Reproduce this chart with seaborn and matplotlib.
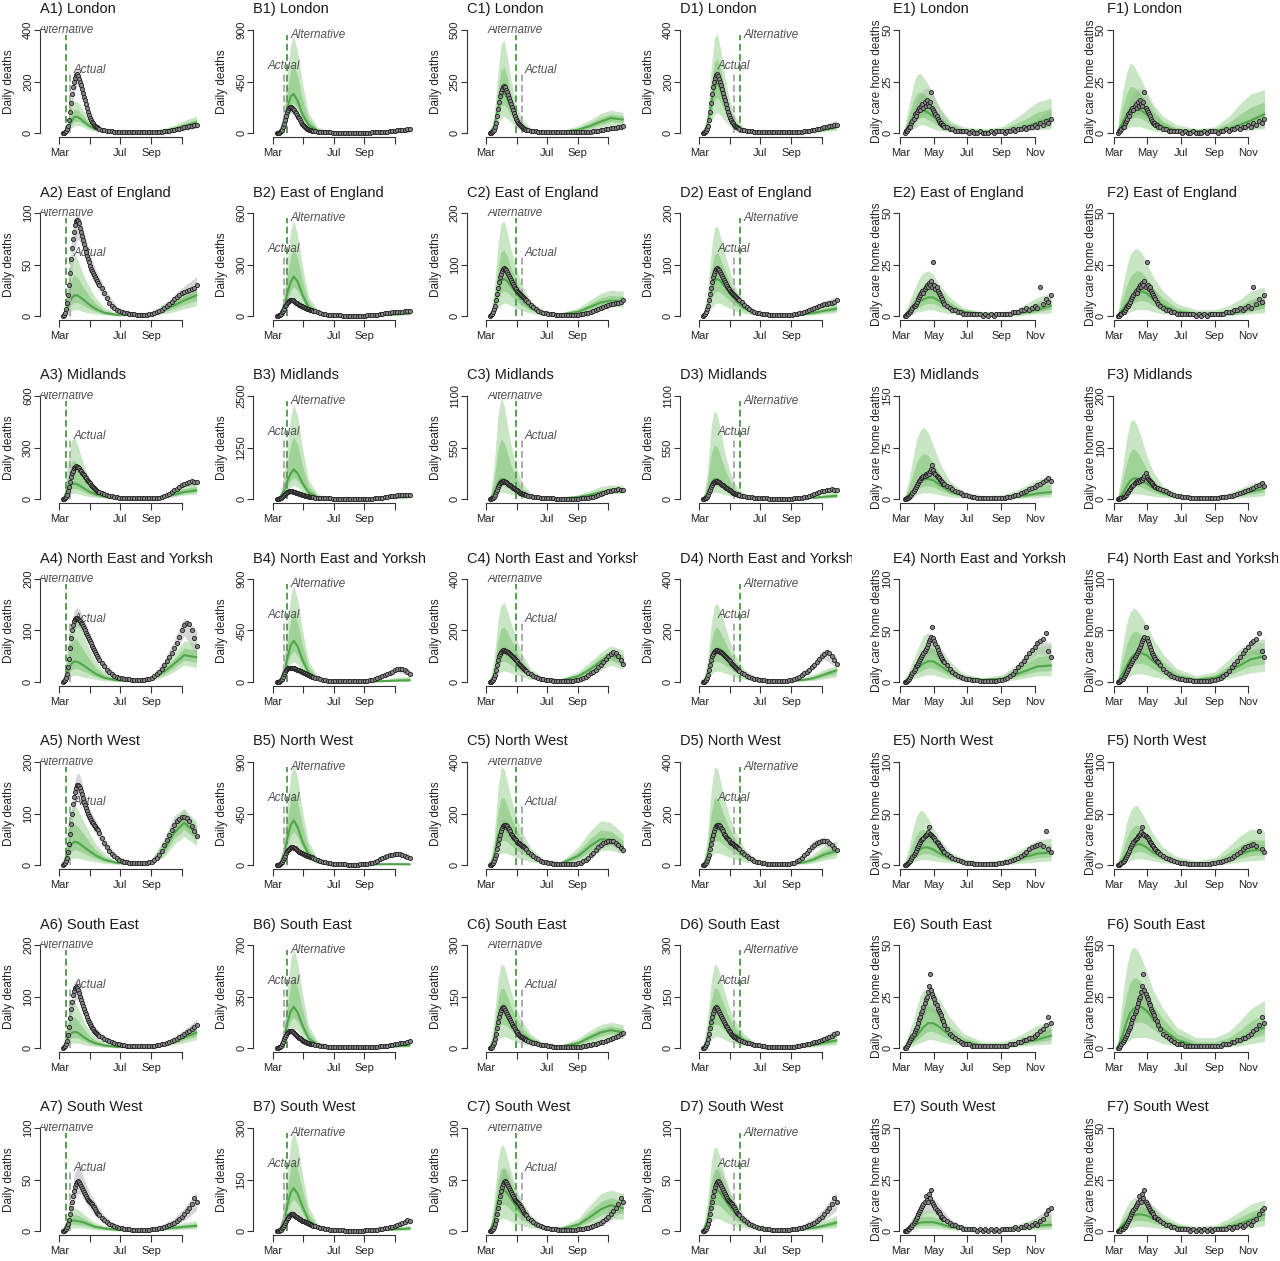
import numpy as np
import seaborn as sns
import matplotlib.pyplot as plt
from matplotlib.transforms import Bbox, TransformedBbox, offset_copy

# Regions (rows) and scenarios (columns A-F)
regions = ["London", "East of England", "Midlands", "North East and Yorkshire",
           "North West", "South East", "South West"]
region_keys = ["london", "east", "midlands", "ney", "nw", "se", "sw"]

# day 0 = 1 March 2020
month_days = [0, 61, 122, 184, 245]
month_names = ["Mar", "May", "Jul", "Sep", "Nov"]

obs_days = list(range(8, 80, 2)) + list(range(80, 280, 5))
band_days = [8, 16, 24, 30, 36, 42, 50, 60, 72, 90, 115, 150, 185, 210, 230, 250, 275]

# actual vs alternative intervention dates (lockdown A/B, easing C/D)
actual_day = {"A": 22, "B": 22, "C": 72, "D": 69}
alt_day = {"A": 14, "B": 29, "C": 59, "D": 82}

ymax_A = [400, 100, 600, 200, 200, 200, 100]
ymax_B = [900, 600, 2500, 900, 900, 700, 300]
ymax_C = [500, 200, 1100, 400, 400, 300, 100]
ymax_D = [400, 200, 1100, 400, 400, 300, 100]
ymax_E = [50, 50, 150, 100, 100, 50, 50]
ymax_F = [50, 50, 200, 100, 100, 50, 50]

# observed daily hospital deaths
hosp_london = [0, 1, 3, 8, 16, 28, 50, 80, 115, 150, 180, 200, 215, 225, 228, 222, 210, 198, 185, 170,
               155, 140, 128, 112, 98, 82, 68, 58, 50, 43, 37, 32, 28, 24, 21, 18,
               16, 13, 11, 9, 7, 6, 5, 4, 3, 3, 3, 2, 2, 2, 2, 2, 2, 2, 2, 2,
               2, 3, 3, 3, 4, 5, 6, 7, 8, 10, 12, 14, 17, 20, 22, 24, 26, 28, 30, 32]
hosp_east = [0, 1, 3, 7, 13, 20, 30, 42, 55, 66, 75, 82, 88, 92, 93, 92, 90, 86, 82, 78,
             74, 70, 66, 62, 58, 55, 52, 49, 46, 44, 42, 40, 38, 36, 34, 32,
             30, 27, 22, 17, 13, 10, 8, 6, 5, 4, 3, 3, 2, 2, 2, 1, 1, 1, 1, 1,
             2, 2, 3, 4, 5, 6, 8, 10, 12, 14, 16, 18, 20, 22, 23, 24, 25, 26, 27, 30]
hosp_midlands = [0, 2, 5, 12, 25, 45, 70, 100, 125, 150, 165, 178, 185, 190, 188, 185, 178, 170, 162, 152,
                 145, 137, 128, 120, 112, 105, 98, 90, 82, 75, 68, 62, 57, 52, 47, 43,
                 40, 33, 27, 22, 18, 15, 12, 10, 8, 7, 6, 5, 4, 4, 3, 3, 3, 3, 3, 3,
                 4, 4, 5, 6, 8, 12, 17, 23, 30, 40, 50, 60, 70, 80, 88, 95, 100, 102, 100, 98]
hosp_ney = [0, 1, 3, 8, 15, 28, 45, 65, 85, 100, 110, 118, 122, 125, 124, 122, 120, 118, 115, 112,
            108, 104, 100, 96, 92, 88, 84, 80, 75, 70, 66, 62, 58, 54, 50, 46,
            43, 36, 30, 24, 19, 15, 12, 10, 8, 7, 6, 5, 5, 4, 4, 4, 4, 4, 4, 5,
            6, 8, 11, 15, 20, 26, 33, 40, 48, 57, 66, 76, 88, 100, 110, 115, 112, 100, 85, 70]
hosp_nw = [0, 1, 3, 7, 14, 25, 40, 60, 80, 100, 118, 132, 142, 150, 155, 156, 154, 150, 144, 138,
           130, 122, 116, 110, 105, 100, 95, 91, 87, 84, 81, 78, 75, 72, 70, 67,
           62, 52, 42, 34, 28, 22, 17, 13, 10, 8, 6, 5, 4, 4, 3, 3, 3, 3, 3, 4,
           5, 6, 9, 14, 20, 28, 38, 48, 58, 68, 78, 85, 90, 93, 94, 92, 85, 76, 66, 57]
hosp_se = [0, 1, 3, 7, 14, 25, 40, 58, 75, 90, 102, 110, 116, 118, 116, 112, 106, 100, 94, 88,
           82, 76, 70, 65, 60, 55, 50, 46, 42, 39, 36, 33, 31, 29, 27, 25,
           24, 21, 18, 15, 13, 11, 9, 8, 7, 6, 5, 4, 4, 3, 3, 3, 3, 3, 3, 3,
           3, 4, 4, 5, 6, 7, 8, 10, 12, 14, 16, 18, 21, 24, 27, 30, 33, 36, 40, 44]
hosp_sw = [0, 0, 1, 2, 4, 7, 11, 16, 22, 28, 34, 39, 43, 46, 48, 49, 48, 46, 44, 42,
           40, 38, 36, 34, 32, 30, 29, 28, 27, 26, 24, 23, 21, 19, 17, 16,
           15, 13, 11, 9, 7, 6, 5, 4, 3, 3, 2, 2, 2, 1, 1, 1, 1, 1, 1, 1,
           1, 2, 2, 2, 3, 3, 4, 5, 6, 7, 8, 10, 12, 14, 16, 19, 22, 26, 32, 28]

# observed daily care home deaths
care_london = [0, 1, 1, 2, 3, 3, 5, 6, 7, 9, 8, 10, 11, 12, 11, 13, 14, 12, 15, 13,
               16, 14, 13, 15, 20, 12, 11, 10, 9, 8, 7, 6, 5, 5, 4, 4,
               3, 3, 2, 2, 1, 1, 1, 1, 1, 0, 1, 0, 0, 1, 0, 0, 0, 1, 0, 1,
               1, 1, 0, 1, 1, 2, 1, 2, 2, 3, 2, 3, 3, 4, 3, 5, 4, 6, 5, 7]
care_east = [0, 0, 1, 1, 2, 2, 3, 4, 5, 5, 6, 7, 8, 9, 10, 11, 12, 11, 13, 14,
             15, 14, 16, 15, 17, 14, 26, 15, 13, 14, 12, 11, 10, 9, 8, 7,
             6, 5, 4, 3, 3, 2, 2, 1, 1, 1, 1, 1, 1, 1, 0, 1, 0, 1, 0, 1,
             1, 1, 1, 1, 1, 2, 2, 2, 3, 3, 4, 3, 4, 5, 4, 14, 6, 8, 7, 10]
care_midlands = [0, 0, 1, 2, 3, 4, 6, 8, 11, 14, 17, 20, 23, 26, 28, 30, 32, 34, 33, 36,
                 35, 38, 37, 40, 44, 50, 42, 38, 36, 34, 32, 30, 28, 26, 24, 22,
                 22, 19, 17, 15, 12, 10, 8, 6, 5, 4, 3, 3, 2, 2, 2, 2, 1, 1, 1, 1,
                 2, 2, 2, 3, 3, 4, 5, 6, 8, 10, 12, 14, 16, 18, 20, 22, 25, 28, 30, 26]
care_ney = [0, 0, 1, 2, 3, 5, 7, 9, 11, 13, 15, 16, 18, 20, 22, 24, 26, 28, 30, 32,
            34, 37, 40, 42, 44, 53, 43, 40, 37, 34, 31, 28, 26, 24, 22, 20,
            19, 16, 13, 10, 8, 6, 5, 4, 3, 3, 2, 2, 2, 1, 1, 1, 1, 1, 1, 1,
            2, 2, 3, 4, 6, 8, 11, 14, 17, 20, 24, 28, 31, 34, 38, 40, 42, 48, 30, 24]
care_nw = [0, 0, 1, 2, 3, 4, 6, 8, 10, 12, 14, 16, 18, 20, 22, 24, 25, 26, 28, 29,
           30, 32, 37, 30, 29, 28, 27, 26, 24, 22, 21, 19, 18, 16, 15, 14,
           13, 11, 9, 7, 6, 5, 4, 3, 2, 2, 2, 1, 1, 1, 1, 1, 1, 1, 1, 1,
           2, 2, 3, 3, 4, 5, 6, 7, 9, 11, 13, 15, 17, 18, 19, 20, 18, 33, 15, 13]
care_se = [0, 0, 1, 2, 3, 4, 5, 6, 7, 8, 9, 10, 12, 14, 15, 17, 18, 20, 22, 24,
           25, 27, 30, 36, 28, 26, 25, 24, 22, 21, 19, 18, 17, 16, 14, 13,
           11, 9, 7, 6, 5, 4, 3, 2, 2, 2, 1, 1, 1, 1, 1, 1, 1, 1, 1, 1,
           1, 1, 1, 1, 2, 2, 2, 3, 3, 4, 4, 5, 5, 6, 7, 8, 9, 11, 15, 12]
care_sw = [0, 0, 0, 1, 1, 2, 2, 3, 4, 5, 6, 7, 8, 9, 10, 11, 12, 13, 14, 17,
           15, 14, 18, 16, 20, 14, 13, 12, 11, 10, 9, 9, 8, 7, 7, 6,
           6, 5, 4, 3, 3, 2, 2, 1, 1, 1, 1, 1, 0, 1, 0, 1, 0, 1, 0, 1,
           0, 1, 1, 1, 1, 1, 2, 1, 2, 2, 3, 2, 3, 4, 3, 5, 6, 8, 10, 11]

# fitted model (actual interventions), 95% interval
fit_hosp_london_lo = [0, 8, 80, 160, 185, 165, 115, 52, 20, 7, 2, 1, 1, 3, 7, 12, 20]
fit_hosp_london_hi = [2, 30, 150, 235, 255, 230, 165, 85, 38, 16, 6, 4, 6, 11, 20, 32, 50]
fit_hosp_east_lo = [0, 6, 40, 65, 75, 72, 60, 44, 31, 17, 4, 1, 1, 5, 11, 17, 23]
fit_hosp_east_hi = [1, 20, 70, 95, 100, 95, 80, 62, 46, 28, 9, 3, 4, 11, 20, 29, 38]
fit_hosp_midlands_lo = [0, 15, 95, 150, 160, 148, 115, 80, 45, 20, 7, 2, 2, 11, 38, 72, 80]
fit_hosp_midlands_hi = [2, 40, 150, 200, 210, 195, 160, 115, 70, 35, 13, 5, 7, 25, 60, 100, 115]
fit_hosp_ney_lo = [0, 8, 65, 100, 108, 102, 90, 70, 47, 23, 7, 2, 5, 25, 55, 90, 55]
fit_hosp_ney_hi = [2, 30, 110, 140, 145, 138, 120, 98, 70, 38, 14, 6, 12, 42, 80, 125, 100]
fit_hosp_nw_lo = [0, 8, 60, 110, 130, 125, 102, 80, 62, 33, 9, 2, 4, 28, 62, 78, 45]
fit_hosp_nw_hi = [2, 28, 105, 160, 180, 172, 140, 110, 88, 52, 18, 5, 10, 50, 95, 110, 75]
fit_hosp_se_lo = [0, 8, 55, 90, 95, 84, 62, 40, 24, 13, 5, 2, 2, 5, 11, 19, 32]
fit_hosp_se_hi = [2, 25, 95, 128, 135, 120, 92, 62, 40, 23, 10, 4, 6, 12, 22, 35, 55]
fit_hosp_sw_lo = [0, 2, 15, 28, 36, 36, 30, 22, 15, 7, 2, 0, 1, 2, 5, 10, 20]
fit_hosp_sw_hi = [1, 10, 35, 55, 62, 60, 50, 38, 28, 15, 5, 2, 3, 7, 12, 22, 38]

fit_care_london_lo = [0, 1, 3, 6, 8, 9, 9, 7, 4, 1, 0, 0, 0, 0.5, 1, 2, 3]
fit_care_london_hi = [1, 6, 12, 16, 19, 21, 22, 19, 12, 5, 2, 1, 1, 2, 4, 7, 11]
fit_care_east_lo = [0, 1, 3, 5, 7, 9, 11, 11, 8, 3, 1, 0, 0, 0.5, 1, 2, 4]
fit_care_east_hi = [1, 4, 8, 10, 13, 15, 17, 17, 13, 7, 2, 1, 1, 2, 4, 7, 10]
fit_care_midlands_lo = [0, 3, 10, 18, 23, 26, 30, 29, 21, 10, 3, 1, 1, 4, 10, 18, 24]
fit_care_midlands_hi = [1, 8, 20, 28, 33, 37, 42, 40, 30, 16, 6, 2, 3, 8, 16, 25, 32]
fit_care_ney_lo = [0, 2, 8, 12, 17, 22, 27, 27, 20, 9, 2, 0, 1, 8, 18, 27, 25]
fit_care_ney_hi = [1, 6, 14, 20, 26, 32, 38, 38, 30, 16, 5, 2, 4, 15, 28, 40, 38]
fit_care_nw_lo = [0, 2, 8, 12, 16, 20, 22, 19, 13, 6, 1, 0, 1, 4, 9, 13, 12]
fit_care_nw_hi = [1, 6, 14, 20, 25, 30, 32, 28, 20, 10, 3, 1, 3, 8, 14, 20, 20]
fit_care_se_lo = [0, 1, 4, 7, 10, 14, 18, 17, 12, 5, 1, 0, 0, 1, 2, 5, 8]
fit_care_se_hi = [1, 4, 8, 12, 16, 22, 27, 25, 18, 9, 3, 1, 1, 3, 5, 9, 14]
fit_care_sw_lo = [0, 0.5, 2, 4, 6, 8, 9, 9, 6, 3, 0.5, 0, 0, 0.5, 1.5, 3, 6]
fit_care_sw_hi = [0.5, 3, 7, 10, 13, 15, 17, 16, 12, 6, 2, 1, 1, 2, 4, 7, 12]

# alternative scenario: median and 95% interval
A1_med = [1, 15, 45, 62, 62, 55, 42, 27, 15, 6, 2, 2, 4, 9, 16, 27, 40]
A1_lo = [0, 5, 18, 28, 30, 27, 20, 12, 6, 2, 1, 0, 1, 2, 5, 10, 18]
A1_hi = [3, 35, 100, 125, 120, 105, 80, 52, 30, 13, 5, 4, 8, 17, 30, 48, 65]
B1_med = [2, 25, 120, 230, 320, 340, 280, 160, 70, 20, 6, 3, 3, 5, 8, 12, 15]
B1_lo = [0, 10, 60, 120, 170, 180, 140, 75, 30, 8, 2, 1, 1, 1, 2, 3, 4]
B1_hi = [5, 50, 280, 560, 780, 850, 700, 420, 170, 50, 15, 8, 10, 18, 30, 45, 55]
C1_med = [3, 30, 120, 180, 195, 170, 120, 65, 30, 10, 4, 4, 15, 35, 55, 72, 65]
C1_lo = [0, 10, 45, 70, 80, 70, 50, 25, 12, 4, 1, 1, 4, 12, 25, 38, 35]
C1_hi = [8, 80, 300, 430, 450, 380, 260, 140, 65, 22, 8, 10, 35, 65, 95, 110, 100]
D1_med = [3, 30, 120, 180, 195, 170, 120, 65, 30, 10, 3, 2, 2, 3, 6, 12, 22]
D1_lo = [0, 10, 45, 70, 80, 70, 50, 25, 12, 4, 1, 0, 0, 1, 2, 5, 10]
D1_hi = [8, 75, 260, 370, 385, 330, 230, 130, 60, 20, 7, 4, 5, 8, 14, 24, 40]
E1_med = [1, 4, 8, 10, 11, 11, 10, 8, 5, 2, 1, 0.5, 1, 2, 3, 5, 7]
E1_lo = [0, 1, 2, 3, 4, 4, 3, 2, 1, 0.5, 0, 0, 0, 0.5, 1, 1.5, 2]
E1_hi = [4, 14, 24, 28, 29, 27, 24, 18, 12, 6, 3, 2, 3, 7, 11, 15, 17]
F1_med = [1, 5, 9, 11, 12, 12, 11, 9, 6, 3, 1, 1, 1, 2, 4, 6, 9]
F1_lo = [0, 1, 2, 3, 3, 3, 3, 2, 1, 0.5, 0, 0, 0, 0.5, 1, 1.5, 2]
F1_hi = [6, 20, 30, 34, 33, 30, 26, 20, 14, 8, 4, 2, 3, 8, 14, 19, 21]

A2_med = [1, 8, 17, 20, 20, 18, 15, 11, 7, 3, 1, 1, 2, 6, 10, 15, 20]
A2_lo = [0, 2, 5, 6, 6, 5, 4, 3, 2, 1, 0, 0, 1, 2, 4, 7, 10]
A2_hi = [3, 30, 55, 60, 55, 48, 38, 28, 18, 8, 3, 2, 4, 12, 18, 24, 30]
B2_med = [1, 15, 70, 140, 200, 230, 200, 120, 50, 15, 4, 2, 2, 3, 6, 10, 14]
B2_lo = [0, 6, 30, 65, 95, 110, 95, 55, 20, 5, 1, 0, 0, 1, 2, 3, 5]
B2_hi = [3, 35, 170, 350, 500, 560, 470, 280, 110, 35, 10, 5, 6, 10, 18, 28, 35]
C2_med = [1, 15, 50, 68, 72, 68, 58, 45, 30, 15, 5, 3, 8, 18, 26, 30, 28]
C2_lo = [0, 4, 15, 22, 25, 24, 20, 15, 10, 5, 1, 1, 3, 8, 14, 18, 17]
C2_hi = [4, 50, 140, 180, 185, 165, 130, 95, 60, 28, 10, 6, 16, 32, 44, 50, 48]
D2_med = [1, 15, 50, 68, 72, 68, 58, 45, 30, 15, 5, 2, 2, 3, 6, 10, 14]
D2_lo = [0, 4, 15, 22, 25, 24, 20, 15, 10, 5, 1, 0, 0, 1, 2, 4, 6]
D2_hi = [4, 45, 130, 170, 175, 155, 125, 90, 55, 25, 8, 4, 4, 7, 12, 20, 28]
E2_med = [0.5, 2, 4, 6, 7, 8, 9, 9, 7, 4, 2, 1, 1, 1, 2, 3, 5]
E2_lo = [0, 0.5, 1, 2, 2, 2.5, 3, 3, 2, 1, 0.5, 0, 0, 0, 0.5, 1, 1.5]
E2_hi = [2, 7, 12, 16, 19, 21, 22, 20, 15, 9, 4, 2, 2, 3, 6, 9, 11]
F2_med = [0.5, 3, 6, 8, 10, 11, 12, 11, 8, 5, 2, 1, 1, 1, 2, 4, 6]
F2_lo = [0, 0.5, 1, 2, 2.5, 3, 3, 3, 2, 1, 0.5, 0, 0, 0, 0.5, 1, 1.5]
F2_hi = [3, 14, 24, 30, 32, 33, 31, 26, 19, 12, 6, 3, 3, 5, 8, 12, 14]

A3_med = [2, 50, 85, 90, 85, 75, 60, 42, 27, 13, 4, 2, 4, 12, 25, 40, 50]
A3_lo = [0, 15, 30, 33, 30, 27, 20, 14, 8, 4, 1, 0, 1, 5, 12, 22, 28]
A3_hi = [8, 200, 340, 360, 320, 260, 190, 120, 70, 30, 10, 5, 10, 28, 55, 80, 95]
B3_med = [3, 60, 250, 450, 620, 720, 620, 380, 150, 45, 12, 5, 5, 10, 20, 35, 50]
B3_lo = [0, 25, 110, 200, 280, 330, 280, 170, 65, 18, 4, 2, 1, 3, 7, 12, 18]
B3_hi = [10, 150, 700, 1400, 2000, 2300, 2000, 1200, 450, 120, 30, 12, 15, 30, 55, 85, 110]
C3_med = [3, 60, 170, 210, 210, 185, 145, 100, 60, 25, 8, 5, 20, 45, 70, 90, 95]
C3_lo = [0, 15, 55, 70, 70, 62, 48, 33, 20, 8, 2, 1, 7, 20, 38, 55, 60]
C3_hi = [15, 350, 900, 1080, 1000, 820, 580, 350, 170, 60, 18, 12, 45, 90, 130, 150, 145]
D3_med = [3, 60, 170, 210, 210, 185, 145, 100, 60, 25, 7, 3, 3, 6, 12, 22, 32]
D3_lo = [0, 15, 55, 70, 70, 62, 48, 33, 20, 8, 2, 1, 1, 2, 4, 8, 12]
D3_hi = [15, 300, 800, 950, 900, 740, 520, 310, 150, 55, 15, 6, 8, 16, 35, 60, 85]
E3_med = [1, 6, 14, 20, 25, 28, 29, 27, 20, 11, 5, 2, 2, 3, 5, 8, 10]
E3_lo = [0, 1, 4, 6, 8, 9, 9, 8, 6, 3, 1, 0, 0, 1, 1, 2, 3]
E3_hi = [4, 30, 65, 88, 100, 105, 98, 78, 52, 26, 11, 5, 6, 12, 20, 28, 34]
F3_med = [1, 10, 25, 35, 40, 40, 37, 30, 21, 11, 4, 2, 2, 4, 8, 14, 20]
F3_lo = [0, 2, 6, 9, 10, 10, 9, 7, 5, 3, 1, 0, 0, 1, 2, 4, 6]
F3_hi = [8, 60, 120, 150, 155, 145, 120, 85, 52, 25, 10, 5, 6, 12, 20, 30, 36]

A4_med = [1, 20, 35, 40, 39, 36, 31, 24, 16, 8, 3, 2, 6, 20, 35, 52, 48]
A4_lo = [0, 6, 11, 13, 12, 11, 9, 7, 5, 2, 1, 0, 2, 10, 20, 33, 28]
A4_hi = [5, 70, 115, 130, 122, 108, 88, 65, 42, 20, 7, 4, 12, 35, 55, 80, 75]
B4_med = [2, 20, 110, 220, 320, 360, 310, 190, 80, 22, 6, 3, 3, 5, 8, 12, 15]
B4_lo = [0, 8, 50, 110, 160, 180, 150, 90, 35, 8, 2, 1, 1, 1, 2, 3, 4]
B4_hi = [5, 45, 260, 520, 760, 850, 720, 440, 180, 50, 14, 6, 8, 14, 25, 40, 50]
C4_med = [2, 25, 90, 115, 120, 112, 98, 78, 55, 28, 10, 6, 22, 50, 80, 105, 85]
C4_lo = [0, 6, 30, 40, 42, 40, 35, 28, 20, 10, 3, 2, 8, 25, 45, 65, 50]
C4_hi = [8, 90, 240, 300, 310, 280, 230, 170, 110, 50, 18, 12, 40, 80, 115, 140, 125]
D4_med = [2, 25, 90, 115, 120, 112, 98, 78, 55, 28, 9, 4, 4, 8, 15, 28, 45]
D4_lo = [0, 6, 30, 40, 42, 40, 35, 28, 20, 10, 3, 1, 1, 3, 6, 12, 20]
D4_hi = [8, 85, 230, 295, 305, 275, 225, 165, 105, 48, 16, 8, 10, 18, 30, 48, 65]
E4_med = [0.5, 4, 9, 12, 15, 18, 20, 20, 16, 9, 4, 2, 3, 7, 11, 15, 16]
E4_lo = [0, 1, 3, 4, 5, 6, 7, 7, 5, 3, 1, 0, 1, 2, 4, 6, 6]
E4_hi = [3, 12, 22, 30, 38, 45, 48, 45, 35, 20, 8, 4, 7, 16, 26, 34, 36]
F4_med = [1, 8, 16, 22, 26, 28, 28, 26, 20, 12, 5, 2, 4, 10, 16, 22, 25]
F4_lo = [0, 2, 4, 6, 7, 8, 8, 7, 5, 3, 1, 0, 1, 3, 6, 9, 10]
F4_hi = [6, 35, 58, 68, 72, 70, 64, 55, 42, 27, 13, 6, 10, 22, 32, 40, 42]

A5_med = [1, 22, 40, 45, 44, 40, 34, 27, 19, 10, 4, 2, 6, 30, 62, 82, 62]
A5_lo = [0, 7, 12, 14, 13, 12, 10, 8, 6, 3, 1, 0, 2, 15, 40, 55, 38]
A5_hi = [5, 75, 110, 115, 108, 98, 82, 62, 42, 22, 8, 4, 12, 50, 88, 108, 85]
B5_med = [2, 20, 120, 250, 350, 390, 330, 200, 90, 25, 6, 3, 3, 5, 6, 6, 5]
B5_lo = [0, 8, 55, 120, 170, 190, 160, 95, 40, 10, 2, 1, 1, 1, 1, 1, 1]
B5_hi = [5, 45, 280, 560, 790, 880, 760, 460, 200, 55, 14, 6, 8, 15, 20, 22, 20]
C5_med = [2, 30, 110, 140, 145, 135, 115, 90, 68, 38, 12, 6, 35, 75, 100, 98, 70]
C5_lo = [0, 8, 35, 45, 47, 44, 38, 30, 22, 12, 4, 2, 12, 35, 55, 58, 42]
C5_hi = [8, 110, 300, 380, 375, 330, 260, 190, 130, 65, 22, 12, 70, 135, 172, 165, 120]
D5_med = [2, 30, 110, 140, 145, 135, 115, 90, 68, 38, 11, 4, 4, 10, 22, 40, 55]
D5_lo = [0, 8, 35, 45, 47, 44, 38, 30, 22, 12, 4, 1, 1, 3, 8, 18, 28]
D5_hi = [8, 110, 300, 380, 375, 330, 260, 190, 130, 65, 20, 8, 9, 22, 45, 75, 95]
E5_med = [0.5, 4, 9, 12, 15, 17, 17, 15, 11, 6, 3, 1, 2, 5, 8, 11, 12]
E5_lo = [0, 1, 3, 4, 5, 5, 5, 4, 3, 2, 1, 0, 0, 1, 2, 3, 4]
E5_hi = [3, 18, 38, 48, 53, 52, 46, 36, 25, 13, 6, 3, 5, 12, 18, 24, 26]
F5_med = [0.5, 5, 11, 15, 18, 20, 20, 17, 12, 7, 3, 1, 2, 6, 10, 14, 15]
F5_lo = [0, 1, 3, 4, 5, 6, 6, 5, 4, 2, 1, 0, 0, 1, 3, 4, 5]
F5_hi = [4, 22, 42, 52, 57, 58, 52, 42, 30, 17, 8, 4, 7, 18, 28, 35, 33]

A6_med = [1, 18, 29, 31, 30, 26, 20, 14, 9, 5, 2, 1, 3, 7, 12, 20, 30]
A6_lo = [0, 5, 9, 10, 9, 8, 6, 4, 3, 1, 0, 0, 1, 3, 6, 10, 16]
A6_hi = [4, 60, 85, 90, 80, 68, 50, 34, 22, 11, 5, 3, 6, 12, 20, 32, 45]
B6_med = [2, 15, 90, 180, 250, 280, 240, 150, 65, 20, 6, 3, 3, 5, 8, 12, 18]
B6_lo = [0, 6, 40, 85, 120, 135, 115, 70, 30, 8, 2, 1, 1, 1, 2, 4, 6]
B6_hi = [5, 35, 210, 420, 600, 680, 580, 360, 150, 45, 13, 6, 7, 12, 20, 30, 40]
C6_med = [2, 25, 85, 105, 105, 95, 78, 58, 40, 22, 8, 4, 14, 32, 45, 52, 45]
C6_lo = [0, 6, 25, 32, 33, 30, 25, 18, 12, 7, 2, 1, 5, 14, 24, 30, 27]
C6_hi = [6, 85, 200, 245, 240, 210, 165, 118, 78, 40, 14, 8, 28, 52, 68, 75, 68]
D6_med = [2, 25, 85, 105, 105, 95, 78, 58, 40, 22, 7, 3, 3, 5, 9, 15, 22]
D6_lo = [0, 6, 25, 32, 33, 30, 25, 18, 12, 7, 2, 1, 1, 2, 3, 6, 9]
D6_hi = [6, 85, 200, 245, 240, 210, 165, 118, 78, 40, 13, 6, 7, 11, 18, 27, 38]
E6_med = [0.5, 2, 4, 6, 8, 10, 12, 12, 10, 6, 3, 1, 1, 2, 3, 4, 6]
E6_lo = [0, 0.5, 1, 2, 2.5, 3, 4, 4, 3, 2, 1, 0, 0, 0.5, 1, 1.5, 2]
E6_hi = [2, 8, 14, 20, 25, 28, 30, 28, 23, 15, 7, 3, 3, 5, 8, 11, 13]
F6_med = [1, 6, 13, 17, 19, 20, 20, 18, 14, 9, 4, 1, 1, 2, 4, 7, 10]
F6_lo = [0, 1, 3, 4, 5, 5, 5, 5, 4, 2, 1, 0, 0, 0.5, 1, 2, 3]
F6_hi = [6, 25, 40, 47, 49, 48, 44, 37, 28, 19, 10, 5, 5, 8, 13, 19, 23]

A7_med = [0.5, 7, 10, 10, 9.5, 9, 8, 6, 4, 2.5, 1, 0.5, 1, 2, 3, 4, 5]
A7_lo = [0, 2, 3, 3, 3, 3, 2.5, 2, 1, 0.5, 0, 0, 0.3, 0.7, 1, 1.5, 2]
A7_hi = [2, 17, 22, 22, 21, 19, 16, 12, 8, 5, 2, 1, 2, 4, 6, 8, 10]
B7_med = [1, 8, 40, 80, 112, 125, 108, 70, 30, 9, 3, 1, 1, 2, 3, 5, 7]
B7_lo = [0, 3, 18, 38, 52, 58, 50, 32, 13, 3, 1, 0, 0, 0.5, 1, 1.5, 2]
B7_hi = [3, 18, 90, 180, 260, 290, 250, 160, 70, 20, 6, 3, 3, 5, 8, 12, 16]
C7_med = [0.5, 10, 30, 38, 40, 37, 31, 24, 17, 9, 3, 2, 6, 14, 21, 25, 22]
C7_lo = [0, 3, 9, 12, 12, 11, 9, 7, 5, 3, 1, 0, 2, 5, 10, 12, 11]
C7_hi = [3, 30, 70, 84, 82, 72, 58, 42, 28, 14, 5, 4, 12, 26, 36, 40, 36]
D7_med = [0.5, 10, 30, 38, 40, 37, 31, 24, 17, 9, 3, 1, 1, 2, 3, 5, 8]
D7_lo = [0, 3, 9, 12, 12, 11, 9, 7, 5, 3, 1, 0, 0, 0.5, 1, 2, 3]
D7_hi = [3, 28, 68, 82, 80, 70, 56, 40, 27, 13, 4, 2, 2, 4, 6, 10, 15]
E7_med = [0.3, 1.5, 3, 3.5, 4, 4.2, 4.3, 4.2, 3.5, 2, 1, 0.4, 0.5, 1, 1.5, 2.5, 3]
E7_lo = [0, 0.3, 0.8, 1, 1.2, 1.3, 1.3, 1.2, 1, 0.5, 0.2, 0, 0, 0.2, 0.4, 0.6, 0.8]
E7_hi = [1, 4, 7, 8.5, 9.5, 10, 10, 9.5, 8, 5, 2.5, 1, 1.5, 3, 4.5, 6.5, 8]
F7_med = [0.5, 3, 5, 6.5, 7.5, 8, 8, 7.5, 6, 4, 2, 0.7, 1, 2, 3.5, 5.5, 8]
F7_lo = [0, 0.6, 1.2, 1.6, 2, 2.2, 2.2, 2, 1.6, 1, 0.4, 0.1, 0.2, 0.5, 1, 1.5, 2.5]
F7_hi = [2, 8, 12, 14.5, 16, 16.5, 16, 14.5, 12, 8, 4, 2, 3, 6, 9.5, 13, 15]

ymax_by_col = {"A": ymax_A, "B": ymax_B, "C": ymax_C, "D": ymax_D, "E": ymax_E, "F": ymax_F}

sns.set_style("ticks")
plt.rcParams["font.family"] = ["Liberation Sans", "DejaVu Sans"]
plt.rcParams["axes.edgecolor"] = "#333333"

W, H = 1280, 1261
fig = plt.figure(figsize=(W / 100, H / 100), dpi=100)

grey_band = "#d5d5d5"
green_outer = "#9bd292"
green_inner = "#6dbb62"
green_line = "#4fa64a"
dash = (0, (3.5, 1.8))

cell_w = W / 6
row_h = 183

for r, key in enumerate(region_keys):
    for c, col in enumerate("ABCDEF"):
        care = col in "EF"
        kind = "care" if care else "hosp"
        cx = c * cell_w
        top = r * row_h
        left = cx + (46 if care else 40)
        width = 160 if care else 164
        ax = fig.add_axes([left / W, 1 - (top + 137) / H, width / W, 111 / H])
        ymax = ymax_by_col[col][r]

        obs = globals()[f"{kind}_{key}"]
        fit_lo = globals()[f"fit_{kind}_{key}_lo"]
        fit_hi = globals()[f"fit_{kind}_{key}_hi"]
        med = np.array(globals()[f"{col}{r + 1}_med"], dtype=float)
        lo = np.array(globals()[f"{col}{r + 1}_lo"], dtype=float)
        hi = np.array(globals()[f"{col}{r + 1}_hi"], dtype=float)

        # model fit under actual interventions
        ax.fill_between(band_days, fit_lo, fit_hi, color=grey_band, lw=0, zorder=1)
        # alternative scenario: 95% and central bands
        ax.fill_between(band_days, lo, hi, color=green_outer, alpha=0.55, lw=0, zorder=2)
        ax.fill_between(band_days, (lo + med) / 2, (hi + med) / 2,
                        color=green_inner, alpha=0.45, lw=0, zorder=2)
        sns.lineplot(x=band_days, y=med, ax=ax, color=green_line, lw=1.5, zorder=3)

        if not care:
            a_day, x_day = actual_day[col], alt_day[col]
            ax.vlines(a_day, 0, 0.57 * ymax, colors="#ababab", linestyles=dash, lw=1.4, zorder=3.5)
            ax.vlines(x_day, 0, 0.95 * ymax, colors="#58a052", linestyles=dash, lw=1.4, zorder=3.5)
            shift = offset_copy(ax.transData, fig=fig, x=3, y=0, units="dots")
            tkw = dict(fontsize=8.4, style="italic", color="#505050", clip_on=True, zorder=3.8)
            if x_day < a_day:
                ax.text(x_day, ymax, "Alternative", ha="center", va="center", **tkw)
                ax.text(a_day, 0.61 * ymax, "Actual", ha="left", va="center",
                        transform=shift, **tkw)
            else:
                ax.text(a_day, 0.65 * ymax, "Actual", ha="center", va="center", **tkw)
                ax.text(x_day, 0.955 * ymax, "Alternative", ha="left", va="center",
                        transform=shift, **tkw)

        sns.scatterplot(x=obs_days, y=obs, ax=ax, s=9, color="#8a8a8a",
                        edgecolor="#1e1e1e", linewidth=0.6, legend=False, zorder=4)

        ax.set_xlim(-2 if care else -39, 290)
        ax.set_ylim(-0.04 * ymax, 1.04 * ymax)
        xlabels = month_names if care else ["Mar", "", "Jul", "Sep", ""]
        ax.set_xticks(month_days, xlabels)
        ax.set_yticks([0, ymax / 2, ymax], [f"{v:g}" for v in (0, ymax / 2, ymax)],
                      rotation=90, va="center")
        ax.spines[["top", "right"]].set_visible(False)
        ax.spines["left"].set_bounds(0, ymax)
        ax.spines["bottom"].set_bounds(0, 245)
        for s in ("left", "bottom"):
            ax.spines[s].set_linewidth(0.8)
        ax.tick_params(axis="x", length=5, width=0.8, pad=3, labelsize=8,
                       color="#333333", labelcolor="#222222")
        ax.tick_params(axis="y", length=4, width=0.8, pad=1, labelsize=8,
                       color="#333333", labelcolor="#222222")
        ax.set_xlabel("")
        ax.set_ylabel("Daily care home deaths" if care else "Daily deaths",
                      fontsize=8.5, color="#222222")
        lab_px = cx + (24 if care else 9)
        ax.yaxis.set_label_coords((lab_px - left) / width, 0.5)
        ax.yaxis.label.set_verticalalignment("center")

        title = fig.text((cx + 40) / W, 1 - (top + 13.5) / H, f"{col}{r + 1}) {regions[r]}",
                         fontsize=10.5, ha="left", va="baseline", color="#1a1a1a")
        title.set_clip_box(TransformedBbox(Bbox([[cx / W, 0], [(cx + 211.5) / W, 1]]),
                                           fig.transFigure))
        title.set_clip_on(True)

fig.savefig("out.png", dpi=100)
